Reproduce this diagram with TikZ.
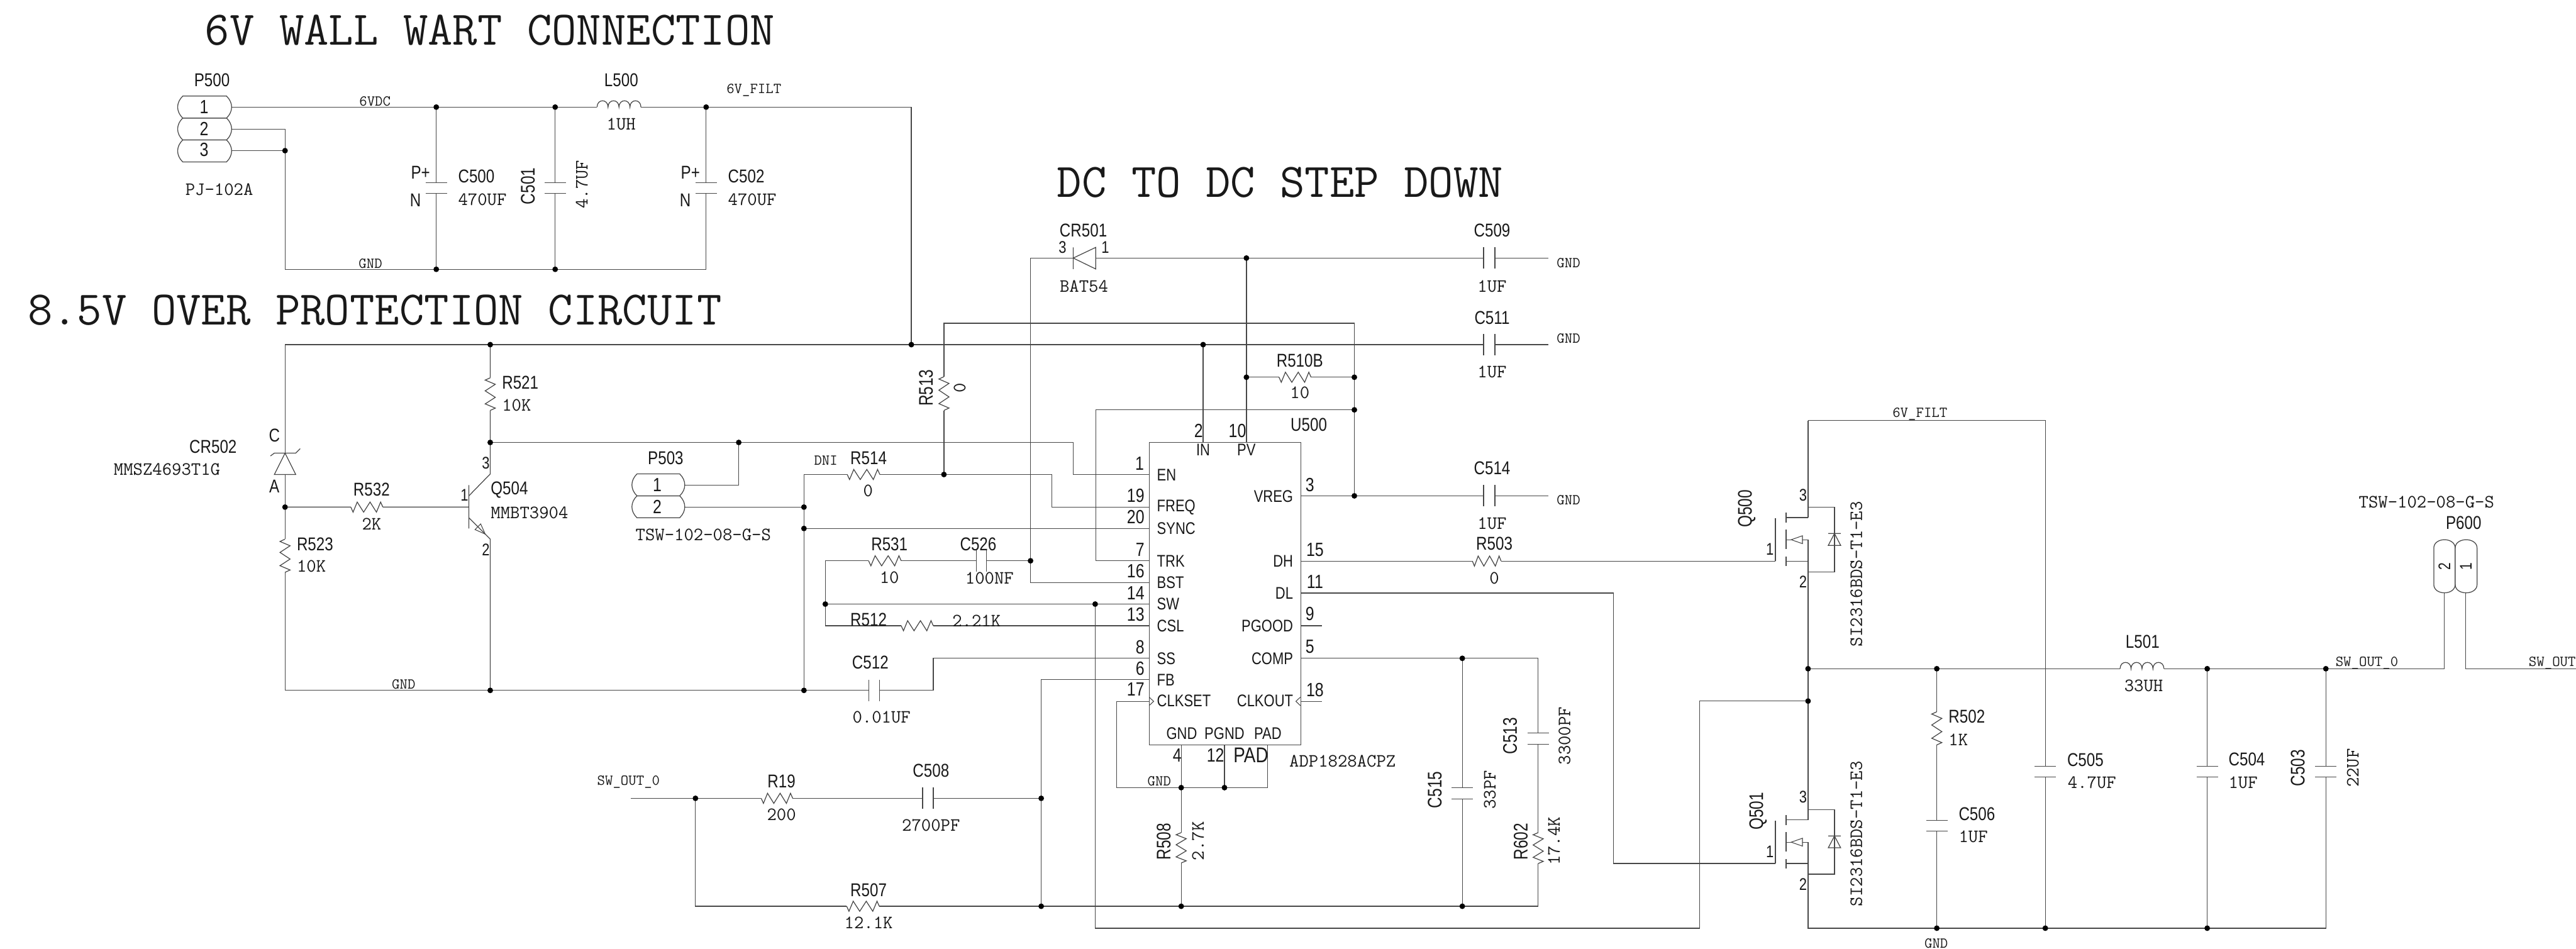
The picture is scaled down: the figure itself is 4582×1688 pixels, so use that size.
\documentclass[tikz,border=0pt]{standalone}
\usepackage{fontspec}
\newfontfamily\rf[FakeStretch=0.82]{Liberation Sans}
\newfontfamily\rg[FakeStretch=0.78]{Liberation Sans}
\definecolor{wc}{gray}{0.28}
\definecolor{tc}{gray}{0.1}
\tikzset{
 wire/.style={draw=wc,line width=.7pt,line join=miter},
 lab/.style={inner sep=0pt,outer sep=0pt,text=tc},
 ref/.style={lab,font=\rf\fontsize{16.5}{16.5}\selectfont},
 refr/.style={lab,rotate=90,font=\rg\fontsize{17.5}{17.5}\selectfont},
 num/.style={lab,font=\rf\fontsize{17}{17}\selectfont},
 numr/.style={lab,rotate=90,font=\rg\fontsize{15}{15}\selectfont},
 pinl/.style={lab,font=\rf\fontsize{15}{15}\selectfont},
 val/.style={lab,font=\ttfamily\fontsize{16.7}{16.7}\selectfont},
 valr/.style={val,rotate=90},
 net/.style={lab,font=\ttfamily\fontsize{13.5}{13.5}\selectfont},
 ttl/.style={lab,font=\ttfamily\fontsize{42.8}{42.8}\selectfont},
}
\newcommand\CapV[4]{% name,x,y1,y2
 \coordinate (#1a) at (#2,#3);\coordinate (#1b) at (#2,#4);
 \draw[wire] (#2-19,#3)--(#2+19,#3) (#2-19,#4)--(#2+19,#4);}
\newcommand\CapH[4]{% name,y,x1,x2
 \coordinate (#1a) at (#3,#2);\coordinate (#1b) at (#4,#2);
 \draw[wire] (#3,#2-19)--(#3,#2+19) (#4,#2-19)--(#4,#2+19);}
\newcommand\ResH[4]{% name,y,x1,x2
 \coordinate (#1a) at (#3,#2);\coordinate (#1b) at (#4,#2);
 \draw[wire] (#1a)--({#3+.07*(#4-#3)},#2+9)--({#3+.2*(#4-#3)},#2-9)--({#3+.4*(#4-#3)},#2+9)--({#3+.6*(#4-#3)},#2-9)--({#3+.8*(#4-#3)},#2+9)--({#3+.93*(#4-#3)},#2-9)--(#1b);}
\newcommand\ResV[4]{% name,x,y1,y2
 \coordinate (#1a) at (#2,#3);\coordinate (#1b) at (#2,#4);
 \draw[wire] (#1a)--(#2-9,{#3+.07*(#4-#3)})--(#2+9,{#3+.2*(#4-#3)})--(#2-9,{#3+.4*(#4-#3)})--(#2+9,{#3+.6*(#4-#3)})--(#2-9,{#3+.8*(#4-#3)})--(#2+9,{#3+.93*(#4-#3)})--(#1b);}
\newcommand\IndH[4]{% name,y,x1,x2
 \coordinate (#1a) at (#3,#2);\coordinate (#1b) at (#4,#2);
 \draw[wire] (#3,#2)
  foreach \k in {0,1,2,3}{ .. controls ({#3+\k*(#4-#3)/4},#2-15) and ({#3+(\k+1)*(#4-#3)/4},#2-15) .. ({#3+(\k+1)*(#4-#3)/4},#2) };}
\newcommand\PinH[4]{% x1,x2,y1,y2
 \draw[wire] (#1+9,#3)--(#2-9,#3) .. controls (#2+3,{#3+.3*(#4-#3)}) and (#2+3,{#3+.7*(#4-#3)}) .. (#2-9,#4)--(#1+9,#4) .. controls (#1-3,{#3+.7*(#4-#3)}) and (#1-3,{#3+.3*(#4-#3)}) .. cycle;}
\newcommand\PinV[4]{% x1,x2,y1,y2
 \draw[wire] (#1,#3+15) .. controls (#1,#3-5) and (#2,#3-5) .. (#2,#3+15)--(#2,#4-15) .. controls (#2,#4+5) and (#1,#4+5) .. (#1,#4-15)--cycle;}
\newcommand\Fet[2]{% name, dy
 \coordinate (#1d) at (3216,920.5+#2);\coordinate (#1s) at (3216,998+#2);\coordinate (#1g) at (3158,998+#2);
 \draw[wire] (3216,902+#2)--(3263,902+#2)--(3263,1017+#2)--(3216,1017+#2);
 \draw[wire] (#1d)--(3177,920.5+#2) (3177,998+#2)--(#1s);
 \draw[wire] (3216,960+#2)--(#1s);
 \draw[wire] (3216,960+#2)--(3206,960+#2) (3186,960+#2)--(3177,960+#2);
 \draw[wire,line width=.6pt] (3186,960+#2)--(3206,953+#2)--(3206,967+#2)--cycle;
 \draw[wire] (3177,912+#2)--(3177,930+#2) (3177,942+#2)--(3177,977+#2) (3177,990+#2)--(3177,1007+#2);
 \draw[wire] (3158,922+#2)--(#1g);
 \draw[wire] (3263,949+#2)--(3252,970+#2)--(3274,970+#2)--cycle (3252,949+#2)--(3274,949+#2);}
\begin{document}
\begin{tikzpicture}[x=.5pt,y=-.5pt]
\useasboundingbox (0,0) rectangle (4582,1688);
% ---------- titles
\node[ttl] (t1) at (871.5,53.5) {6V WALL WART CONNECTION};
\node[ttl] (t2) at (666.5,552) {8.5V OVER PROTECTION CIRCUIT};
\node[ttl] (t3) at (2277,324) {DC TO DC STEP DOWN};
% ---------- components
\PinH{316}{412}{171}{210}\PinH{316}{412}{210}{249}\PinH{316}{412}{249}{288}
\PinH{1124}{1218}{843}{882}\PinH{1124}{1218}{882}{921}
\PinV{4329}{4367}{960}{1054.5}\PinV{4367}{4406}{960}{1054.5}
\CapV{C500}{776}{325}{344}\CapV{C501}{987.5}{325}{344}\CapV{C502}{1256}{325}{344}
\IndH{L500}{190.5}{1062}{1140}
\ResV{R521}{872}{672}{730}\ResV{R523}{507}{959}{1018}\ResH{R532}{902}{624}{681}
\ResH{R514}{844}{1507}{1565}\ResV{R513}{1679}{670}{730}
\ResH{R510}{671}{2275}{2332}
\CapH{C509}{459}{2639}{2659}\CapH{C511}{613}{2639}{2659}\CapH{C514}{882}{2639}{2659}
\ResH{R531}{997.5}{1545}{1603}\CapH{C526}{997.5}{1737}{1755}
\ResH{R512}{1113}{1603}{1660}\CapH{C512}{1228}{1545}{1564}
\ResH{R19}{1420}{1354}{1410}\CapH{C508}{1420}{1641}{1660}\ResH{R507}{1612}{1506}{1564}
\ResV{R508}{2101}{1481}{1535}\ResV{R602}{2736}{1481}{1536}
\CapV{C515}{2601}{1401}{1421}\CapV{C513}{2736}{1304}{1324}
\ResH{R503}{998}{2619}{2670}
\ResV{R502}{3445}{1266}{1325}\CapV{C506}{3445}{1459}{1478}
\CapV{C505}{3638}{1363}{1382}\CapV{C504}{3926}{1363}{1382}\CapV{C503}{4137}{1363}{1382}
\IndH{L501}{1189.5}{3771}{3849}
\Fet{Qa}{0}\Fet{Qb}{538}
% IC box
\node[draw=wc,line width=.7pt,inner sep=0pt,minimum width=134.5pt,minimum height=269pt,anchor=north west] (U) at (2044,786) {};
% coordinates
\foreach \n/\x/\y in {
 P1/412/190.5,P2/412/229.5,P3/412/268,J3/507/268,JAt/776/190.5,JBt/987.5/190.5,JCt/1256/190.5,
 Ka/1621/190.5,JF/1621/613,G0/507/479,JAb/776/479,JBb/987.5/479,JCb/1256/479,
 TL/507/613,JQ/872/613,Zc/507/806,Za/507/844,JZ/507/902,BL/507/1228,
 J787/872/787,Q3/872/843,Qk/834/882,QB/834/902,QE/834/921,QF/872/959,JQb/872/1228,
 J1314/1314/787,Kb/1909/787,Kc/1909/844,EN/2044/844,
 P5a/1218/863,P5b/1218/902,
 Jm1/1430/902,Jm2/1430/940,Jm3/1430/1228,Jm0/1430/844,
 Kd/1660/1228,Ke/1660/1170.5,SS/2044/1170.5,
 J1679/1679/844,Kf/1871/844,Kg/1871/902,FREQ/2044/902,
 Kh/1679/575,Ki/2409/575,Jv1/2409/671,Jv2/2409/729,Jv3/2409/882,
 SYNC/2044/940,TRK/2044/997.5,Kj/1949/997.5,Kk/1949/729,
 BST/2044/1036,Kl/1833/1036,Jb/1833/997.5,Km/1833/459,Da/1909/459,Dc/1949/459,
 JP/2217/459,JPr/2217/671,PV/2217/786,JI/2140/613,IN/2140/786,
 E509/2754/459,E511/2754/613,E514/2754/882,VREG/2313/882,
 Ks/1468/997.5,Js/1468/1074.5,Kt/1468/1113,Jw/1948/1074.5,SW/2044/1074.5,CSL/2044/1113,
 FB/2044/1209,Ku/1852/1209,Jc/1852/1420,Jr/1852/1612,
 CK/2044/1247.5,Kv/1986/1247.5,Kw/1986/1401,Jg1/2101/1401,Jg2/2178/1401,Kx/2255/1401,Pa/2255/1324,Pb/2178/1324,Pc/2101/1324,
 SWi/1122/1420,Jo/1237/1420,Ky/1237/1612,Jt/2101/1612,Ju/2601/1612,Kz/2736/1612,
 Lb/2736/1171,Jx/2601/1171,COMP/2313/1171,
 Ma/1948/1651,Mb/3023/1651,Mc/3023/1247,Jy/3216/1247,
 DH/2313/998,DL/2313/1055,Md/2870/1055,Me/2870/1536,
 PG/2313/1113,PGe/2351/1113,CO/2313/1247.5,COe/2351/1247.5,
 Nt/3216/748,Nr/3638/748,Jh/3216/1189.5,Ji/3445/1189.5,Jj/3926/1189.5,Jk/4137/1189.5,
 Nc/4348/1189.5,Nd/4348/1054.5,Ne/4386/1054.5,Nf/4386/1189.5,Ng/4582/1189.5,
 Bs/3216/1651,Jl/3445/1651,Jn/3638/1651,Jq/3926/1651,Be/4137/1651}
 {\coordinate (\n) at (\x,\y);}
% ---------- wires
\draw[wire] (P1)--(JAt)--(JBt)--(L500a) (L500b)--(JCt)--(Ka)--(JF);
\draw[wire] (P2)-|(J3)--(G0)--(JAb)--(JBb)--(JCb)--(C502b) (P3)--(J3);
\draw[wire] (JAt)--(C500a) (C500b)--(JAb) (JBt)--(C501a) (C501b)--(JBb) (JCt)--(C502a);
\draw[wire] (TL)--(JQ)--(JF)--(JI)--(C511a) (C511b)--(E511);
\draw[wire] (TL)--(Zc) (Za)--(JZ)--(R523a) (R523b)--(BL)--(JQb)--(Jm3)--(C512a);
\draw[wire] (C512b)--(Kd)--(Ke)--(SS);
\draw[wire] (JQ)--(R521a) (R521b)--(J787)--(Q3)--(Qk);
\draw[wire] (J787)--(J1314)--(Kb)--(Kc)--(EN);
\draw[wire] (JZ)--(R532a) (R532b)--(QB) (834,863)--(834,940) (QE)--(QF)--(JQb);
\draw[wire,line width=.6pt] (863,950)--(855,932)--(845,942)--cycle;
\draw[wire] (481,811)--(488,806)--(526,806)--(534,798) (Zc)--(488,844)--(526,844)--cycle;
\draw[wire] (P5a)-|(J1314) (P5b)--(Jm1) (Jm0)--(Jm1)--(Jm2)--(Jm3);
\draw[wire] (Jm0)--(R514a) (R514b)--(J1679)--(Kf)--(Kg)--(FREQ);
\draw[wire] (J1679)--(R513b) (R513a)--(Kh)--(Ki)--(Jv1)--(Jv2)--(Jv3);
\draw[wire] (Jm2)--(SYNC) (TRK)--(Kj)--(Kk)--(Jv2);
\draw[wire] (BST)--(Kl)--(Jb)--(Km)--(Da);
\draw[wire] (1909,440)--(1909,478.5) (Da)--(1949,440)--(1949,478.5)--cycle;
\draw[wire] (Dc)--(JP)--(C509a) (C509b)--(E509) (JP)--(JPr)--(PV) (JI)--(IN);
\draw[wire] (JPr)--(R510a) (R510b)--(Jv1);
\draw[wire] (VREG)--(Jv3)--(C514a) (C514b)--(E514);
\draw[wire] (Ks)--(R531a) (R531b)--(C526a) (C526b)--(Jb) (Ks)--(Js)--(Kt)--(R512a) (R512b)--(CSL) (Js)--(Jw)--(SW);
\draw[wire] (FB)--(Ku)--(Jc)--(Jr);
\draw[wire] (2044,1247.5)--(Kv)--(Kw)--(Jg1)--(Jg2)--(Kx)--(Pa) (Jg2)--(Pb) (Pc)--(Jg1)--(R508a) (R508b)--(Jt);
\draw[wire] (SWi)--(Jo)--(R19a) (R19b)--(C508a) (C508b)--(Jc);
\draw[wire] (Jo)--(Ky)--(R507a) (R507b)--(Jr)--(Jt)--(Ju)--(Kz)--(R602b) (R602a)--(C513b) (C513a)--(Lb)--(Jx)--(COMP);
\draw[wire] (Jx)--(C515a) (C515b)--(Ju);
\draw[wire] (Jw)--(Ma)--(Mb)--(Mc)--(Jy);
\draw[wire] (DH)--(R503a) (R503b)--(Qag);
\draw[wire] (DL)--(Md)--(Me)--(Qbg);
\draw[wire] (PG)--(PGe) (CO)--(COe);
\draw[wire,line width=.6pt] (2044,1240)--(2052,1247.5)--(2044,1255) (2313,1240)--(2305,1247.5)--(2313,1255);
\draw[wire] (Nt)--(Qad) (Qas)--(Jh)--(Jy)--(Qbd) (Qbs)--(Bs)--(Jl)--(Jn)--(Jq)--(Be)--(C503b);
\draw[wire] (Nt)--(Nr)--(C505a) (C505b)--(Jn);
\draw[wire] (Jh)--(Ji)--(L501a) (L501b)--(Jj)--(Jk)--(Nc)--(Nd) (Ne)--(Nf)--(Ng);
\draw[wire] (Ji)--(R502a) (R502b)--(C506a) (C506b)--(Jl);
\draw[wire] (Jj)--(C504a) (C504b)--(Jq) (Jk)--(C503a);
% ---------- junction dots
\foreach \n in {J3,JAt,JBt,JCt,JF,JAb,JBb,JQ,JZ,J787,JQb,J1314,Jm1,Jm2,Jm3,J1679,Jv1,Jv2,Jv3,Jb,JP,JPr,JI,Js,Jw,Jc,Jr,Jg1,Jg2,Jo,Jt,Ju,Jx,Jy,Jh,Ji,Jj,Jk,Jl,Jn,Jq}
 {\fill[black] (\n) circle[radius=5];}
% ---------- P500 section text
\node[ref] (lP500) at (377,142) {P500};
\node[num] (n11) at (363,190) {1};\node[num] (n12) at (363,229) {2};\node[num] (n13) at (363,266) {3};
\node[val] (vPJ) at (390,337) {PJ-102A};
\node[net] (n6vdc) at (667,180) {6VDC};
\node[net] (ngnd1) at (659,469) {GND};
\node[ref] (lL500) at (1105,142) {L500};
\node[val] (v1uh) at (1105,221) {1UH};
\node[net] (n6vf) at (1341,160) {6V\_FILT};
\node[ref] (pA) at (748,307) {P+};\node[ref] (nA) at (739,356) {N};
\node[ref,anchor=west] (lC500) at (815,314) {C500};
\node[val,anchor=west] (v500) at (815,355) {470UF};
\node[ref] (pB) at (1228,307) {P+};\node[ref] (nB) at (1219,356) {N};
\node[ref,anchor=west] (lC502) at (1295,314) {C502};
\node[val,anchor=west] (v502) at (1295,355) {470UF};
\node[refr] (lC501) at (939,331) {C501};
\node[valr] (v501) at (1035,328) {4.7UF};
% ---------- over-protection text
\node[ref] (lC) at (488,775) {C};\node[ref] (lA) at (488,865) {A};
\node[ref] (lCR502) at (379,795) {CR502};
\node[val] (vCR502) at (297,835) {MMSZ4693T1G};
\node[ref,anchor=west] (lR521) at (893,680) {R521};
\node[val,anchor=west] (vR521) at (893,721) {10K};
\node[ref] (lR532) at (661,871) {R532};
\node[val] (vR532) at (661,932) {2K};
\node[ref,anchor=west] (lR523) at (528,968) {R523};
\node[val,anchor=west] (vR523) at (528,1007) {10K};
\node[ref,anchor=west] (lQ504) at (873,871) {Q504};
\node[val,anchor=west] (vQ504) at (873,912) {MMBT3904};
\node[pinl] (n3a) at (864,824) {3};\node[pinl] (n1a) at (826,881) {1};\node[pinl] (n2a) at (864,978) {2};
\node[net] (ngnd2) at (718,1217) {GND};
\node[ref] (lP503) at (1184,815) {P503};
\node[num] (n51) at (1169,863) {1};\node[num] (n52) at (1169,901) {2};
\node[val] (vP503) at (1251,951) {TSW-102-08-G-S};
\node[net] (nDNI) at (1469,819) {DNI};
\node[ref] (lR514) at (1545,815) {R514};
\node[val] (vR514) at (1544,873) {0};
\node[refr] (lR513) at (1647,690) {R513};
\node[valr] (vR513) at (1707,690) {0};
\node[ref] (lR531) at (1582,968) {R531};
\node[val] (vR531) at (1582,1027) {10};
\node[ref] (lC526) at (1740,968) {C526};
\node[val] (vC526) at (1760,1028) {100NF};
\node[ref] (lR512) at (1545,1102) {R512};
\node[val] (vR512) at (1737,1104) {2.21K};
\node[ref] (lC512) at (1548,1178) {C512};
\node[val] (vC512) at (1568,1276) {0.01UF};
% ---------- feedback text
\node[net] (nSW) at (1118,1391) {SW\_OUT\_0};
\node[ref] (lR19) at (1390,1390) {R19};
\node[val] (vR19) at (1390,1449) {200};
\node[ref] (lC508) at (1656,1371) {C508};
\node[val] (vC508) at (1656,1468) {2700PF};
\node[ref] (lR507) at (1545,1583) {R507};
\node[val] (vR507) at (1545,1641) {12.1K};
\node[net] (ngnd3) at (2062,1389) {GND};
\node[refr] (lR508) at (2070,1497) {R508};
\node[valr] (vR508) at (2131,1496) {2.7K};
% ---------- diode, caps on top
\node[ref] (lCR501) at (1927,410) {CR501};
\node[pinl] (n3d) at (1890,440) {3};\node[pinl] (n1d) at (1966,440) {1};
\node[val] (vBAT) at (1928,509) {BAT54};
\node[ref] (lC509) at (2654,410) {C509};\node[val] (vC509) at (2654,509) {1UF};\node[net] (ng9) at (2790,468) {GND};
\node[ref] (lC511) at (2654,565) {C511};\node[val] (vC511) at (2654,662) {1UF};\node[net] (ng11) at (2790,602) {GND};
\node[ref] (lC514) at (2654,833) {C514};\node[val] (vC514) at (2654,931) {1UF};\node[net] (ng14) at (2790,890) {GND};
\node[ref] (lR510) at (2312,641) {R510B};\node[val] (vR510) at (2312,699) {10};
\node[ref] (lU500) at (2328,756) {U500};
% ---------- IC text
\foreach \t/\x/\y [count=\i] in {1/2027/824,19/2020/882,20/2020/920,7/2028/978,16/2020/1016,14/2020/1055,13/2020/1093,8/2028/1151,6/2028/1189,17/2020/1226,
 3/2330/863,15/2339/978,11/2339/1035,9/2330/1092,5/2330/1150,18/2339/1227,2/2132/766,10/2201/766,4/2094/1343,12/2162/1343}
 {\node[num] (pn\i) at (\x,\y) {\t};}
\foreach \t/\y [count=\i] in {EN/845,FREQ/902,SYNC/940,TRK/998,BST/1036,SW/1074,CSL/1113,SS/1171,FB/1209,CLKSET/1247}
 {\node[pinl,anchor=west] (pl\i) at (2058,\y) {\t};}
\foreach \t/\y [count=\i] in {VREG/883,DH/998,DL/1055,PGOOD/1113,COMP/1171,CLKOUT/1247}
 {\node[pinl,anchor=east] (pr\i) at (2300,\y) {\t};}
\node[pinl] (pIN) at (2140,800) {IN};\node[pinl] (pPV) at (2217,800) {PV};
\node[pinl] (pGND) at (2102,1305) {GND};\node[pinl] (pPGND) at (2178,1305) {PGND};\node[pinl] (pPAD) at (2255,1305) {PAD};
\node[ref,font=\rf\fontsize{19}{19}\selectfont] (lPAD) at (2225,1343) {PAD};
\node[val] (vU) at (2388,1354) {ADP1828ACPZ};
% ---------- comp text
\node[refr] (lC515) at (2552,1405) {C515};\node[valr] (vC515) at (2650,1405) {33PF};
\node[refr] (lC513) at (2686,1309) {C513};\node[valr] (vC513) at (2783,1309) {3300PF};
\node[refr] (lR602) at (2705,1497) {R602};\node[valr] (vR602) at (2764,1496) {17.4K};
% ---------- output stage text
\node[ref] (lR503) at (2658,967) {R503};\node[val] (vR503) at (2658,1028) {0};
\node[net] (n6v2) at (3415,736) {6V\_FILT};
\node[refr] (lQ500) at (3107,905) {Q500};\node[refr] (lQ501) at (3127,1443) {Q501};
\node[valr] (vQ500) at (3302,1021) {SI2316BDS-T1-E3};\node[valr] (vQ501) at (3302,1483) {SI2316BDS-T1-E3};
\node[pinl] (na3) at (3207,881) {3};\node[pinl] (na2) at (3207,1035) {2};\node[pinl] (na1) at (3148,977) {1};
\node[pinl] (nb3) at (3207,1418) {3};\node[pinl] (nb2) at (3207,1573) {2};\node[pinl] (nb1) at (3148,1515) {1};
\node[ref,anchor=west] (lR502) at (3466,1275) {R502};\node[val,anchor=west] (vR502) at (3466,1316) {1K};
\node[ref,anchor=west] (lC506) at (3484,1448) {C506};\node[val,anchor=west] (vC506) at (3484,1488) {1UF};
\node[ref,anchor=west] (lC505) at (3677,1352) {C505};\node[val,anchor=west] (vC505) at (3678,1392) {4.7UF};
\node[ref,anchor=west] (lC504) at (3964,1351) {C504};\node[val,anchor=west] (vC504) at (3964,1392) {1UF};
\node[refr] (lC503) at (4087,1366) {C503};\node[valr] (vC503) at (4185,1366) {22UF};
\node[net] (ngb) at (3444,1678) {GND};
\node[ref] (lL501) at (3811,1141) {L501};\node[val] (vL501) at (3813,1220) {33UH};
\node[net] (nS1) at (4210,1179) {SW\_OUT\_0};
\node[net,anchor=west] (nS2) at (4498,1179) {SW\_OUT};
\node[ref] (lP600) at (4382,930) {P600};
\node[val] (vP600) at (4316,893) {TSW-102-08-G-S};
\node[numr] (n62) at (4348,1007) {2};\node[numr] (n61) at (4386,1007) {1};
\end{tikzpicture}
\end{document}
